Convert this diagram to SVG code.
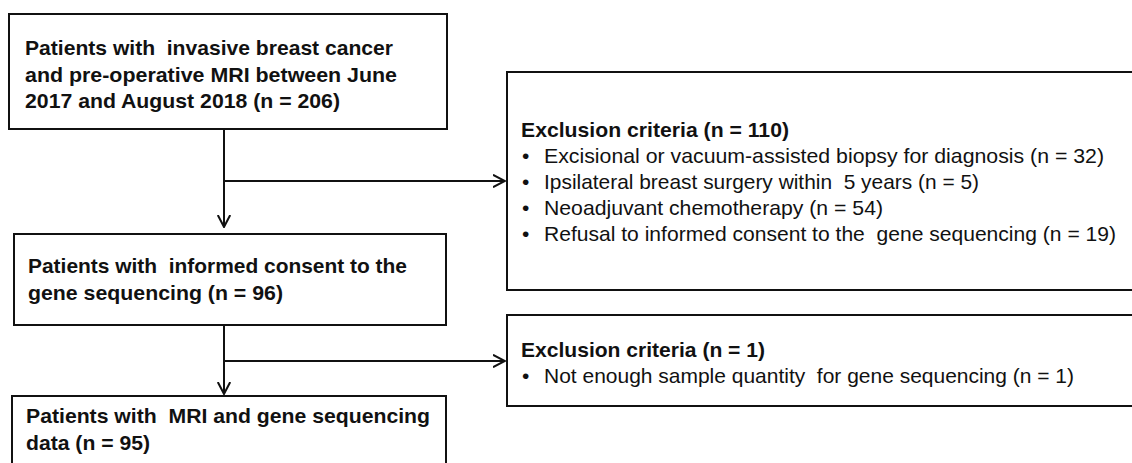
<svg xmlns="http://www.w3.org/2000/svg" width="1132" height="463" viewBox="0 0 1132 463">
<style>
  .box { fill: #ffffff; stroke: #111111; stroke-width: 2; }
  .conn { fill: none; stroke: #111111; stroke-width: 2; }
  text { font-family: "Liberation Sans", Arial, sans-serif; font-size: 21px; fill: #111111; white-space: pre; }
  .b { font-weight: bold; }
</style>
<defs>
  <marker id="arr" markerUnits="userSpaceOnUse" viewBox="0 0 13 14" refX="12" refY="7" markerWidth="13" markerHeight="14" orient="auto">
    <path d="M0,0.8 L12,7 L0,13.2" fill="none" stroke="#111111" stroke-width="2"/>
  </marker>
</defs>
<rect width="1132" height="463" fill="#ffffff"/>

<g id="connectors">
  <path class="conn" d="M224,129 L224,227" marker-end="url(#arr)"/>
  <path class="conn" d="M224,181 L505,181" marker-end="url(#arr)"/>
  <path class="conn" d="M224,325 L224,394" marker-end="url(#arr)"/>
  <path class="conn" d="M224,361 L505,361" marker-end="url(#arr)"/>
</g>

<g id="n1">
  <rect class="box" x="9" y="14" width="438" height="115"/>
  <text class="b" x="25" y="55" textLength="368" lengthAdjust="spacingAndGlyphs">Patients with  invasive breast cancer</text>
  <text class="b" x="25" y="82" textLength="372" lengthAdjust="spacingAndGlyphs">and pre-operative MRI between June</text>
  <text class="b" x="25" y="108" textLength="315" lengthAdjust="spacingAndGlyphs">2017 and August 2018 (n = 206)</text>
</g>

<g id="n2">
  <rect class="box" x="14" y="234" width="432" height="91"/>
  <text class="b" x="28" y="273" textLength="379" lengthAdjust="spacingAndGlyphs">Patients with  informed consent to the</text>
  <text class="b" x="28" y="300" textLength="255" lengthAdjust="spacingAndGlyphs">gene sequencing (n = 96)</text>
</g>

<g id="n3">
  <rect class="box" x="12" y="396" width="434" height="80"/>
  <text class="b" x="26" y="423" textLength="404" lengthAdjust="spacingAndGlyphs">Patients with  MRI and gene sequencing</text>
  <text class="b" x="26" y="450" textLength="124" lengthAdjust="spacingAndGlyphs">data (n = 95)</text>
</g>

<g id="x1">
  <rect class="box" x="507" y="72" width="640" height="218"/>
  <text class="b" x="521" y="137" textLength="268" lengthAdjust="spacingAndGlyphs">Exclusion criteria (n = 110)</text>
  <text x="522" y="163">•</text>
  <text x="544" y="163" textLength="560" lengthAdjust="spacingAndGlyphs">Excisional or vacuum-assisted biopsy for diagnosis (n = 32)</text>
  <text x="522" y="189">•</text>
  <text x="544" y="189" textLength="435" lengthAdjust="spacingAndGlyphs">Ipsilateral breast surgery within  5 years (n = 5)</text>
  <text x="522" y="215">•</text>
  <text x="544" y="215" textLength="339" lengthAdjust="spacingAndGlyphs">Neoadjuvant chemotherapy (n = 54)</text>
  <text x="522" y="241">•</text>
  <text x="544" y="241" textLength="572" lengthAdjust="spacingAndGlyphs">Refusal to informed consent to the  gene sequencing (n = 19)</text>
</g>

<g id="x2">
  <rect class="box" x="507" y="315" width="640" height="91"/>
  <text class="b" x="521" y="357" textLength="244" lengthAdjust="spacingAndGlyphs">Exclusion criteria (n = 1)</text>
  <text x="522" y="383">•</text>
  <text x="544" y="383" textLength="530" lengthAdjust="spacingAndGlyphs">Not enough sample quantity  for gene sequencing (n = 1)</text>
</g>
</svg>
